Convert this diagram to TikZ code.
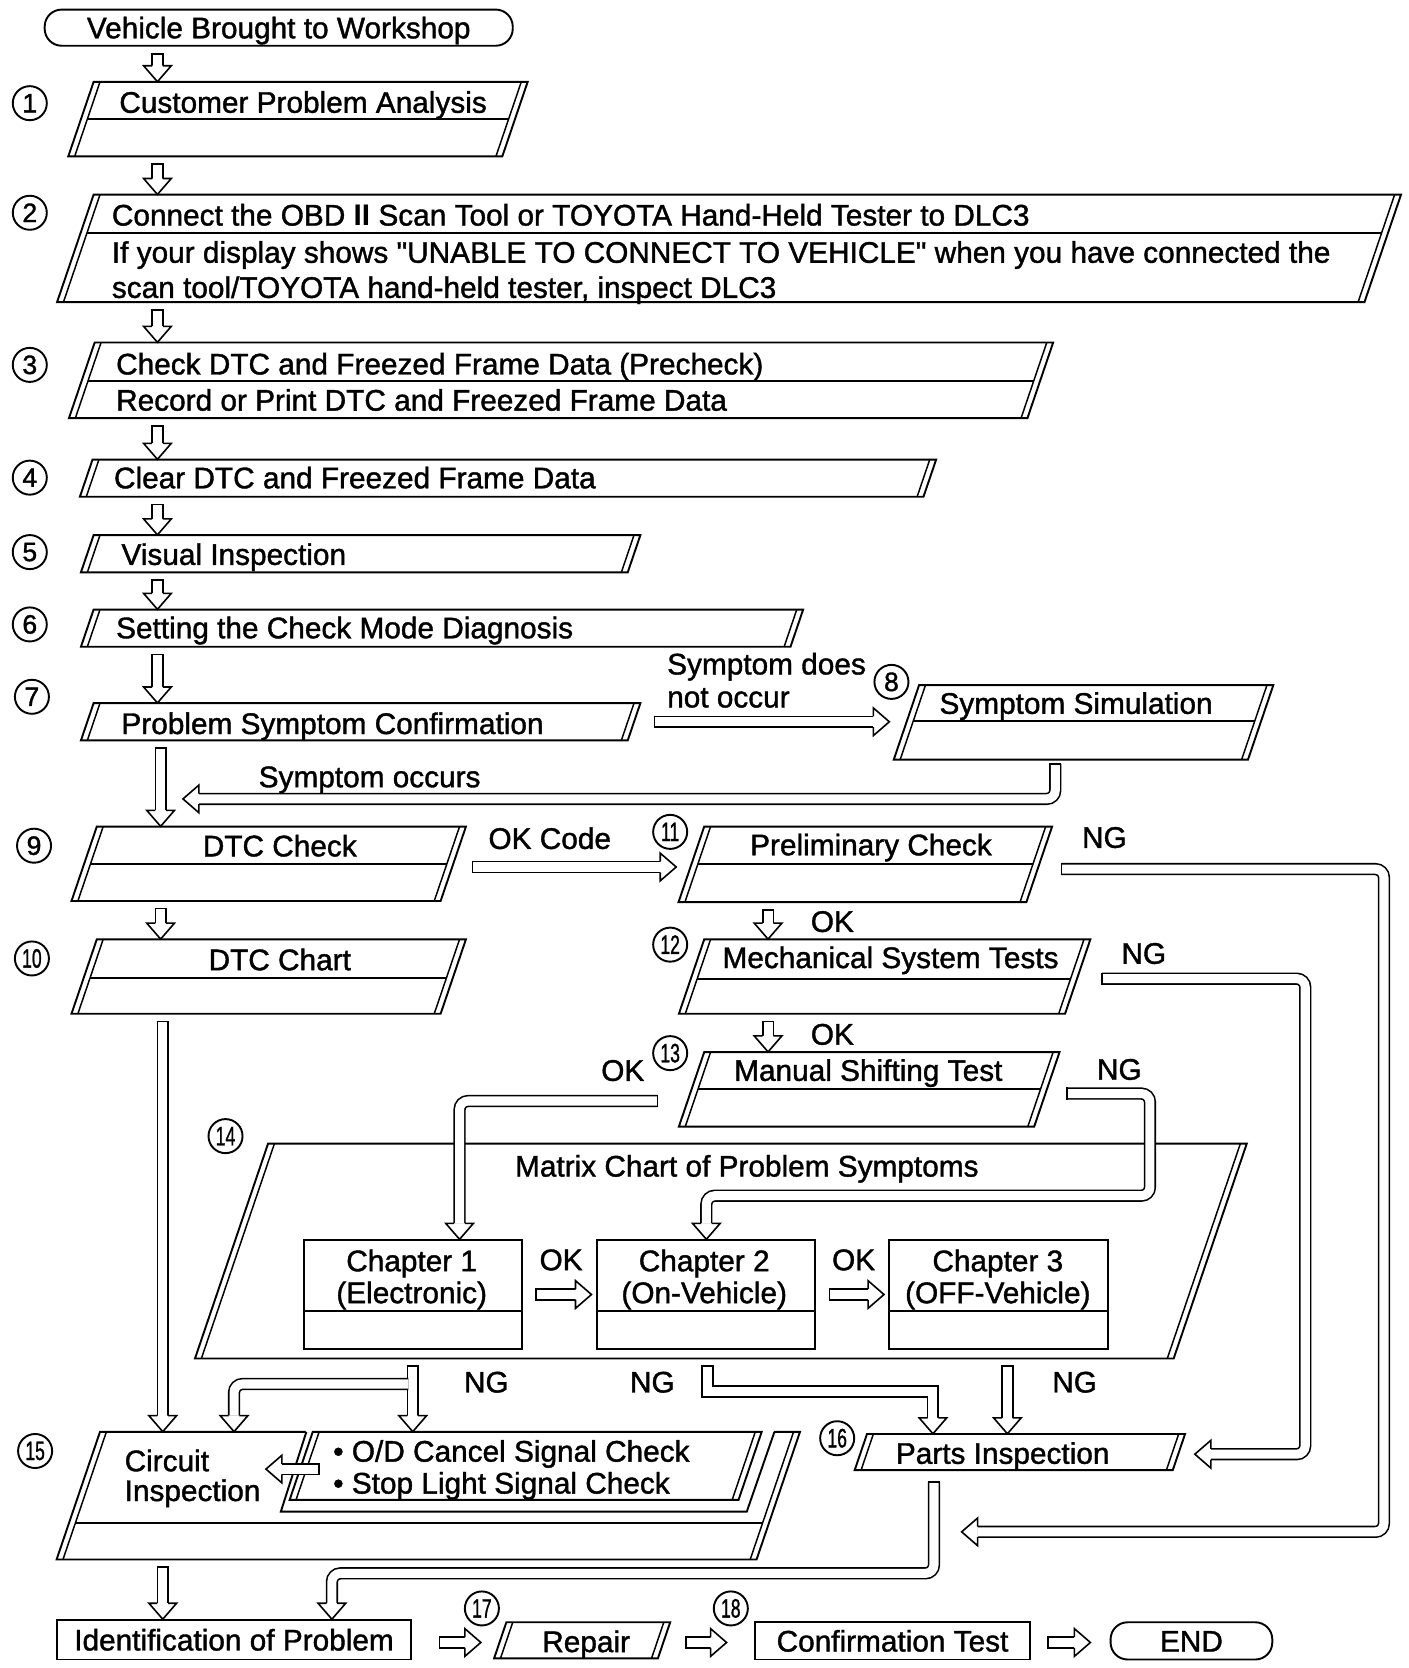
\documentclass[tikz,border=0pt]{standalone}
\usepackage{fontspec}
\setmainfont{Liberation Sans}
\newfontfamily\dfont{Liberation Sans}[FakeBold=1.3]
\usepackage{graphicx}
\usetikzlibrary{calc,fit}

% parallelogram box with doubled slanted sides: name, xTopLeft, yTop, xTopRight, yBottom
\newcommand\pgbox[5]{%
 \pgfmathsetmacro\pgO{0.34*((#5)-(#3))}%
 \draw[bl] (#2,#3) -- (#4,#3) -- ({#4-\pgO},#5) -- ({#2-\pgO},#5) -- cycle;
 \draw[il] ({#2+6},#3) -- ({#2+6-\pgO},#5);
 \draw[il] ({#4-6},#3) -- ({#4-6-\pgO},#5);
 \coordinate (#1-a) at ({#2-\pgO},#3);
 \coordinate (#1-b) at (#4,#5);
 \node[hit, fit=(#1-a)(#1-b)] (#1) {};
}
% divider: xTopLeft, yTop, xTopRight, yDivider
\newcommand\pgdiv[4]{%
 \pgfmathsetmacro\pgD{0.34*((#4)-(#2))}%
 \draw[bl] ({#1+6-\pgD},#4) -- ({#3-6-\pgD},#4);
}
% hollow heads (tip at coordinate)
\newcommand\hdD[1]{\draw[ha] ($(#1)+(-5,-15)$) -- ($(#1)+(-13,-15)$) -- (#1) -- ($(#1)+(13,-15)$) -- ($(#1)+(5,-15)$);}
\newcommand\hdL[1]{\draw[ha] ($(#1)+(15,-5)$) -- ($(#1)+(15,-13)$) -- (#1) -- ($(#1)+(15,13)$) -- ($(#1)+(15,5)$);}
\newcommand\hdR[1]{\draw[ha] ($(#1)+(-15,-5)$) -- ($(#1)+(-15,-13)$) -- (#1) -- ($(#1)+(-15,13)$) -- ($(#1)+(-15,5)$);}
\newcommand\capV[1]{\draw[line width=1.5pt] ($(#1)+(-5.75,0)$) -- ($(#1)+(5.75,0)$);}
\newcommand\capH[1]{\draw[line width=1.5pt] ($(#1)+(0,-5.75)$) -- ($(#1)+(0,5.75)$);}
% vertical connector between two nodes at column x
\newcommand\vconn[3]{%
 \coordinate (vx) at (#3,0);
 \coordinate (vs) at ($(#1.south -| vx)+(0,7)$);
 \coordinate (vt) at (#2.north -| vx);
 \draw[sh] (vs) -- ($(vt)+(0,-15)$);
 \capV{vs}\hdD{vt}}
\newcommand\hconnR[2]{\draw[sh] (#1) -- ($(#2)+(-15,0)$); \capH{#1}\hdR{#2}}
\newcommand\hconnL[2]{\draw[sh] (#1) -- ($(#2)+(15,0)$); \capH{#1}\hdL{#2}}
\newcommand\twod[1]{\scalebox{0.66}[1]{#1}}

\begin{document}
\begin{tikzpicture}[x=1pt,y=-1pt,
 bl/.style={line width=1.8pt, line join=miter},
 il/.style={line width=1.4pt},
 ha/.style={draw, line width=1.5pt, fill=white, line join=miter},
 sh/.style={line width=1.5pt, double=white, double distance=8.5pt, rounded corners=8pt},
 tx/.style={font=\dfont\fontsize{28}{30}\selectfont, inner sep=0pt},
 num/.style={circle, draw, line width=1.8pt, minimum size=32pt, inner sep=0pt, font=\dfont\fontsize{25}{25}\selectfont},
 hit/.style={inner sep=0pt, draw=none},
 term/.style={draw, line width=1.8pt, rounded corners=16pt, tx, text height=20pt, text depth=0pt},
 rbox/.style={draw, line width=1.8pt, tx, text height=20pt, text depth=0pt}]
\useasboundingbox (0,0) rectangle (1324,1568);
\fill[white] (0,0) rectangle (1324,1568);

% ---------- boxes ----------
\node[term, minimum width=440pt, minimum height=34pt] (start) at (262,26) {Vehicle Brought to Workshop};

\pgbox{b1}{88}{77}{496}{147}   \pgdiv{88}{77}{496}{112}
\pgbox{b2}{88}{183}{1317}{284} \pgdiv{88}{183}{1317}{219}
\pgbox{b3}{89}{322}{990}{393}  \pgdiv{89}{322}{990}{358}
\pgbox{b4}{87}{432}{880}{467}
\pgbox{b5}{88}{503}{602}{538}
\pgbox{b6}{88}{573}{755}{608}
\pgbox{b7}{88}{661}{602}{696}
\pgbox{b8}{864}{644}{1197}{714} \pgdiv{864}{644}{1197}{678}
\pgbox{b9}{91}{777}{438}{847}   \pgdiv{91}{777}{438}{812}
\pgbox{b10}{91}{883}{438}{953}  \pgdiv{91}{883}{438}{919}
\pgbox{b11}{662}{777}{989}{848} \pgdiv{662}{777}{989}{812}
\pgbox{b12}{662}{883}{1025}{953} \pgdiv{662}{883}{1025}{920}
\pgbox{b13}{662}{989}{996}{1059} \pgdiv{662}{989}{996}{1024}
\pgbox{b14}{252}{1075}{1172}{1277}

\node[draw, bl, minimum width=205pt, minimum height=102pt, anchor=north west, inner sep=0pt] (ch1) at (285,1165) {};
\node[draw, bl, minimum width=205pt, minimum height=102pt, anchor=north west, inner sep=0pt] (ch2) at (560,1165) {};
\node[draw, bl, minimum width=206pt, minimum height=102pt, anchor=north west, inner sep=0pt] (ch3) at (835,1165) {};
\draw[bl] (ch1.west |- 0,1232) -- (ch1.east |- 0,1232);
\draw[bl] (ch2.west |- 0,1232) -- (ch2.east |- 0,1232);
\draw[bl] (ch3.west |- 0,1232) -- (ch3.east |- 0,1232);

\pgbox{b15}{94}{1346}{752}{1466} \pgdiv{94}{1346}{752}{1432}
\fill[white] (288,1344) -- (728,1344) -- (702,1421) -- (264,1421) -- cycle;
\draw[bl] (288,1346) -- (264,1421) -- (702,1421) -- (728,1346);
\pgbox{b15i}{294}{1346}{716}{1410}

\pgbox{b16}{815}{1348}{1114}{1382}
\pgbox{b17}{476}{1525}{630}{1559}
\node[rbox, minimum width=332pt, minimum height=37pt] (idp) at (220,1541.5) {Identification of Problem};
\node[rbox, minimum width=258pt, minimum height=35pt] (conf) at (839,1542.5) {Confirmation Test};
\node[term, minimum width=152pt, minimum height=35pt] (endn) at (1120,1542.5) {END};

% ---------- texts ----------
\node[tx,anchor=base west] (t1) at (112,106) {Customer Problem Analysis};
\node[tx,anchor=base west] (t2a) at (105,212) {Connect the OBD {\rmfamily\bfseries II} Scan Tool or TOYOTA Hand-Held Tester to DLC3};
\node[tx,anchor=base west] (t2b) at (105,247) {If your display shows "UNABLE TO CONNECT TO VEHICLE" when you have connected the};
\node[tx,anchor=base west] (t2c) at (105,280) {scan tool/TOYOTA hand-held tester, inspect DLC3};
\node[tx,anchor=base west] (t3a) at (109,352) {Check DTC and Freezed Frame Data (Precheck)};
\node[tx,anchor=base west] (t3b) at (109,386) {Record or Print DTC and Freezed Frame Data};
\node[tx,anchor=base west] (t4) at (107,459) {Clear DTC and Freezed Frame Data};
\node[tx,anchor=base west] (t5) at (114,531) {Visual Inspection};
\node[tx,anchor=base west] (t6) at (109,600) {Setting the Check Mode Diagnosis};
\node[tx,anchor=base west] (t7) at (114,690) {Problem Symptom Confirmation};
\node[tx,anchor=base west] (l1) at (627,634) {Symptom does};
\node[tx,anchor=base west] (l2) at (627,665) {not occur};
\node[tx,anchor=base west] (t8) at (883,671) {Symptom Simulation};
\node[tx,anchor=base west] (l3) at (243,740) {Symptom occurs};
\node[tx,anchor=base] (t9) at (263,805) {DTC Check};
\node[tx,anchor=base west] (l4) at (459,798) {OK Code};
\node[tx,anchor=base west] (t11) at (705,804) {Preliminary Check};
\node[tx,anchor=base west] (l5) at (1017,797) {NG};
\node[tx,anchor=base] (t10) at (263,912) {DTC Chart};
\node[tx,anchor=base west] (l6) at (762,876) {OK};
\node[tx,anchor=base west] (t12) at (679,910) {Mechanical System Tests};
\node[tx,anchor=base west] (l7) at (1054,906) {NG};
\node[tx,anchor=base west] (l8) at (762,982) {OK};
\node[tx,anchor=base west] (t13) at (690,1016) {Manual Shifting Test};
\node[tx,anchor=base west] (l9) at (565,1016) {OK};
\node[tx,anchor=base west] (l10) at (1031,1015) {NG};
\node[tx,anchor=base west] (t14) at (484,1106) {Matrix Chart of Problem Symptoms};
\node[tx,anchor=base] (c1a) at (387,1195) {Chapter 1};
\node[tx,anchor=base] (c1b) at (387,1225) {(Electronic)};
\node[tx,anchor=base] (c2a) at (662,1195) {Chapter 2};
\node[tx,anchor=base] (c2b) at (662,1225) {(On-Vehicle)};
\node[tx,anchor=base] (c3a) at (938,1195) {Chapter 3};
\node[tx,anchor=base] (c3b) at (938,1225) {(OFF-Vehicle)};
\node[tx,anchor=base west] (l11) at (507,1194) {OK};
\node[tx,anchor=base west] (l12) at (782,1194) {OK};
\node[tx,anchor=base west] (l13) at (436,1309) {NG};
\node[tx,anchor=base west] (l14) at (592,1309) {NG};
\node[tx,anchor=base west] (l15) at (989,1309) {NG};
\node[tx,anchor=base west] (t15a) at (117,1383) {Circuit};
\node[tx,anchor=base west] (t15b) at (117,1411) {Inspection};
\node[tx,anchor=base west] (t15c) at (313,1374) {• O/D Cancel Signal Check};
\node[tx,anchor=base west] (t15d) at (313,1404) {• Stop Light Signal Check};
\node[tx,anchor=base west] (t16) at (842,1376) {Parts Inspection};
\node[tx,anchor=base] (t17) at (551,1553) {Repair};

% ---------- step numbers ----------
\node[num] (n1) at (28,97) {1};
\node[num] (n2) at (28,200) {2};
\node[num] (n3) at (28,343) {3};
\node[num] (n4) at (28,449) {4};
\node[num] (n5) at (28,519) {5};
\node[num] (n6) at (28,587) {6};
\node[num] (n7) at (30,655) {7};
\node[num] (n8) at (838,641) {8};
\node[num] (n9) at (32,795) {9};
\node[num] (n10) at (30,901) {\twod{10}};
\node[num] (n11) at (630,782) {\twod{11}};
\node[num] (n12) at (630,888) {\twod{12}};
\node[num] (n13) at (630,990) {\twod{13}};
\node[num] (n14) at (212,1068) {\twod{14}};
\node[num] (n15) at (33,1364) {\twod{15}};
\node[num] (n16) at (787,1352) {\twod{16}};
\node[num] (n17) at (453,1512) {\twod{17}};
\node[num] (n18) at (687,1512) {\twod{18}};

% ---------- connectors ----------
\vconn{start}{b1}{148}
\vconn{b1}{b2}{148}
\vconn{b2}{b3}{148}
\vconn{b3}{b4}{148}
\vconn{b4}{b5}{148}
\vconn{b5}{b6}{148}
\vconn{b6}{b7}{148}
\vconn{b7}{b9}{151}
\vconn{b9}{b10}{151}
\vconn{b10}{b15}{153}
\vconn{b11}{b12}{722}
\vconn{b12}{b13}{722}
\vconn{b14}{b16}{947}
\vconn{b15}{idp}{153}

% symptom does not occur
\coordinate (nos) at ($(b7.east)+(13,0)$);
\coordinate (not) at ($(nos -| b8.west)+(-4,0)$);
\hconnR{nos}{not}
% symptom occurs (return)
\coordinate (sos) at (992,718);
\coordinate (sot) at (172,751);
\draw[sh] (sos) -- (sos |- sot) -- ($(sot)+(15,0)$); \capV{sos}\hdL{sot}
% OK code
\coordinate (oks) at ($(b9.east)+(6,3)$);
\coordinate (okt) at ($(oks -| b11.west)+(-2,0)$);
\hconnR{oks}{okt}
% NG from 11
\coordinate (g11s) at (998,817);
\coordinate (g11t) at (904,1440);
\draw[sh] (g11s) -- (1301,817) -- (1301,1440) -- ($(g11t)+(15,0)$); \capH{g11s}\hdL{g11t}
% NG from 12
\coordinate (g12s) at (1036,920);
\coordinate (g12t) at ($(b16.east |- 0,1367)+(9,0)$);
\draw[sh] (g12s) -- (1227,920) -- (1227,1367) -- ($(g12t)+(15,0)$); \capH{g12s}\hdL{g12t}
% OK from 13 to chapter 1
\coordinate (o13s) at (618,1035);
\coordinate (o13t) at (ch1.north -| 432,0);
\draw[sh] (o13s) -- (o13s -| o13t) -- ($(o13t)+(0,-15)$); \capH{o13s}\hdD{o13t}
% NG from 13 to chapter 2
\coordinate (g13s) at (1003,1028);
\coordinate (g13t) at (ch2.north -| 664,0);
\draw[sh] (g13s) -- (1081,1028) -- (1081,1124) -- (664,1124) -- ($(g13t)+(0,-15)$); \capH{g13s}\hdD{g13t}
% chapter OK arrows
\coordinate (c12s) at ($(ch1.east)+(12,0)$);
\coordinate (c12t) at ($(ch2.west)+(-4,0)$);
\hconnR{c12s}{c12t}
\coordinate (c23s) at ($(ch2.east)+(13,0)$);
\coordinate (c23t) at ($(ch3.west)+(-4,0)$);
\hconnR{c23s}{c23t}
% NG from chapter 1
\vconn{b14}{b15i}{388}
\coordinate (g1t) at (b15.north -| 220,0);
\draw[sh] (384,1301) -- (220,1301) -- ($(g1t)+(0,-15)$); \hdD{g1t}
% NG from chapter 2
\coordinate (g2s) at (665,1284);
\coordinate (g2t) at (b16.north -| 877,0);
\draw[sh, sharp corners] (g2s) -- (665,1308) -- (877,1308) -- ($(g2t)+(0,-15)$); \capV{g2s}\hdD{g2t}
% signal checks to circuit inspection
\coordinate (sgs) at (300,1381);
\coordinate (sgt) at (250,1381);
\hconnL{sgs}{sgt}
% parts inspection to identification
\coordinate (pis) at ($(b16.south -| 878,0)+(0,11)$);
\coordinate (pit) at (idp.north -| 312,0);
\draw[sh] (pis) -- (878,1479) -- (312,1479) -- ($(pit)+(0,-15)$); \capV{pis}\hdD{pit}
% bottom row
\coordinate (r1s) at (413,1544); \coordinate (r1t) at (452,1544); \hconnR{r1s}{r1t}
\coordinate (r2s) at (645,1544); \coordinate (r2t) at (683,1544); \hconnR{r2s}{r2t}
\coordinate (r3s) at (985,1544); \coordinate (r3t) at (1025,1544); \hconnR{r3s}{r3t}
\end{tikzpicture}
\end{document}
